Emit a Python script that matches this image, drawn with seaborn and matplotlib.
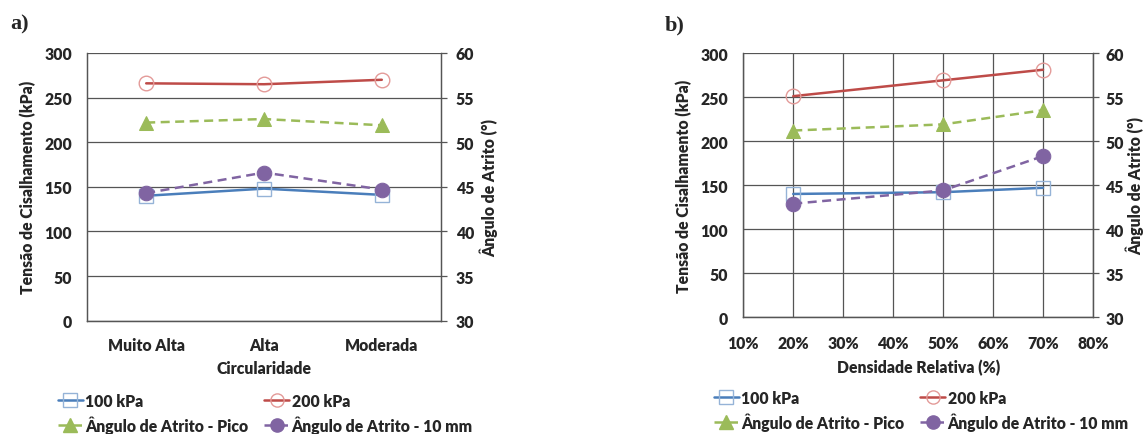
import matplotlib
matplotlib.use("Agg")
import matplotlib.pyplot as plt
import seaborn as sns
from matplotlib.lines import Line2D

sns.set_style("white")
plt.rcParams['font.family'] = ['Lato', 'DejaVu Sans']
WEIGHT = 'heavy'

# ---- data ----
circ_cats = ["Muito Alta", "Alta", "Moderada"]
a_100kpa = [140, 148, 141]
a_200kpa = [266, 265, 270]
a_pico = [52.2, 52.6, 51.9]
a_10mm = [44.3, 46.6, 44.7]

dens = [20, 50, 70]
b_100kpa = [140, 142, 147]
b_200kpa = [251, 269, 281]
b_pico = [51.2, 51.9, 53.5]
b_10mm = [42.9, 44.4, 48.3]

left_ticks = [0, 50, 100, 150, 200, 250, 300]
right_ticks = [30, 35, 40, 45, 50, 55, 60]
dens_ticks = [10, 20, 30, 40, 50, 60, 70, 80]

labels = ["100 kPa", "200 kPa", "Ângulo de Atrito - Pico", "Ângulo de Atrito - 10 mm"]

BLUE, BLUE_M = "#4A7EBB", "#95B3D7"
RED, RED_M = "#BE4B48", "#E39A98"
GREEN = "#9BBB59"
PURPLE = "#8064A2"
GRID = "#555555"
FS = 11.3
LW = 1.8
MS = 9.5
DASH = (0, (3.6, 2.2))

fig = plt.figure(figsize=(11.48, 4.35), dpi=100)


def style_axes(ax, ax2, xpad, rpad, xgrid=False):
    ax.set_ylim(0, 300)
    ax.set_yticks(left_ticks)
    ax2.set_ylim(30, 60)
    ax2.set_yticks(right_ticks)
    ax.yaxis.grid(True, color=GRID, lw=0.9)
    if xgrid:
        ax.xaxis.grid(True, color=GRID, lw=0.9)
    ax.set_axisbelow(True)
    for a in (ax, ax2):
        for s in a.spines.values():
            s.set_color(GRID)
            s.set_linewidth(0.9)
        a.spines['top'].set_visible(False)
    ax.tick_params(axis='y', length=0, pad=11, labelsize=FS)
    ax.tick_params(axis='x', length=0, pad=xpad, labelsize=FS)
    ax2.tick_params(axis='y', length=4, width=0.9, color=GRID, direction='out', pad=rpad, labelsize=FS)
    for t in ax.get_xticklabels() + ax.get_yticklabels() + ax2.get_yticklabels():
        t.set_fontweight(WEIGHT)


def draw(ax, ax2, x, s100, s200, pico, mm10):
    sns.lineplot(x=x, y=s100, ax=ax, color=BLUE, lw=LW, marker='s', ms=MS,
                 mfc='none', mec=BLUE_M, mew=1.0, sort=False)
    sns.lineplot(x=x, y=s200, ax=ax, color=RED, lw=LW, marker='o', ms=MS + 1,
                 mfc='none', mec=RED_M, mew=1.0, sort=False)
    sns.lineplot(x=x, y=pico, ax=ax2, color=GREEN, lw=LW, marker='^', ms=MS + 1,
                 mfc=GREEN, mec=GREEN, linestyle=DASH, sort=False)
    sns.lineplot(x=x, y=mm10, ax=ax2, color=PURPLE, lw=LW, marker='o', ms=MS + 1,
                 mfc=PURPLE, mec=PURPLE, linestyle=DASH, sort=False)


def legend_handles():
    return [
        Line2D([], [], color=BLUE, lw=LW, marker='s', ms=MS, mfc='none', mec=BLUE_M),
        Line2D([], [], color=GREEN, lw=LW, marker='^', ms=MS, mfc=GREEN, mec=GREEN, linestyle=DASH),
        Line2D([], [], color=RED, lw=LW, marker='o', ms=MS, mfc='none', mec=RED_M),
        Line2D([], [], color=PURPLE, lw=LW, marker='o', ms=MS, mfc=PURPLE, mec=PURPLE, linestyle=DASH),
    ]


leg_labels = [labels[0], labels[2], labels[1], labels[3]]
LEG_KW = dict(ncol=2, loc='upper left', frameon=False, handlelength=1.6,
              handletextpad=0.15, columnspacing=1.0, labelspacing=0.42, borderpad=0,
              prop={'weight': WEIGHT, 'size': FS, 'family': ['Lato', 'DejaVu Sans']})

# ---- panel a ----
axA = fig.add_axes([87.3 / 1148, 1 - 321.7 / 435, (440.7 - 87.3) / 1148, (321.7 - 54) / 435])
axA2 = axA.twinx()
draw(axA, axA2, circ_cats, a_100kpa, a_200kpa, a_pico, a_10mm)
axA.set_xlim(-0.5, 2.5)
style_axes(axA, axA2, xpad=12, rpad=7)
axA.set_xlabel("Circularidade", fontsize=FS, fontweight=WEIGHT, labelpad=5)
axA.set_ylabel("Tensão de Cisalhamento (kPa)", fontsize=FS, fontweight=WEIGHT, labelpad=6)
axA2.set_ylabel("Ângulo de Atrito (°)", fontsize=FS, fontweight=WEIGHT, labelpad=4)
fig.text(10 / 1148, 1 - 24 / 435, "a)", family='Liberation Serif', fontweight='bold',
         fontsize=16, va='center', ha='left')
fig.legend(legend_handles(), leg_labels, bbox_to_anchor=(50 / 1148, 1 - 386 / 435), **LEG_KW)

# ---- panel b ----
axB = fig.add_axes([743.3 / 1148, 1 - 318.3 / 435, (1093 - 743.3) / 1148, (318.3 - 54) / 435])
axB2 = axB.twinx()
draw(axB, axB2, dens, b_100kpa, b_200kpa, b_pico, b_10mm)
axB.set_xlim(10, 80)
axB.set_xticks(dens_ticks)
axB.set_xticklabels([f"{v}%" for v in dens_ticks])
style_axes(axB, axB2, xpad=13, rpad=5, xgrid=True)
axB.set_xlabel("Densidade Relativa (%)", fontsize=FS, fontweight=WEIGHT, labelpad=5)
axB.set_ylabel("Tensão de Cisalhamento (kPa)", fontsize=FS, fontweight=WEIGHT, labelpad=6)
axB2.set_ylabel("Ângulo de Atrito (°)", fontsize=FS, fontweight=WEIGHT, labelpad=1)
fig.text(665 / 1148, 1 - 25 / 435, "b)", family='Liberation Serif', fontweight='bold',
         fontsize=16, va='center', ha='left')
fig.legend(legend_handles(), leg_labels, bbox_to_anchor=(706 / 1148, 1 - 383 / 435), **LEG_KW)

for a in (axA, axA2, axB, axB2):
    if a.get_legend() is not None:
        a.get_legend().remove()

fig.savefig("out.png", dpi=100)
